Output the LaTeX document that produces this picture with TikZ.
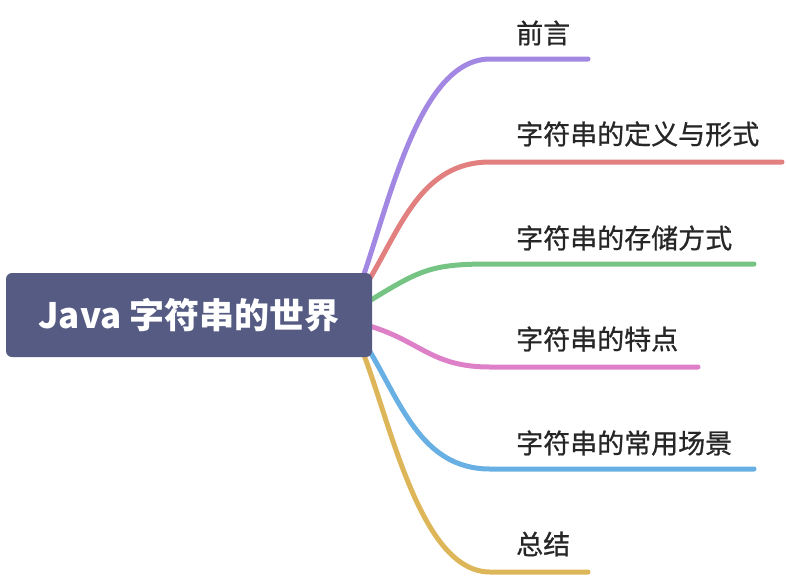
\documentclass[tikz,border=0pt]{standalone}
\usepackage{fontspec}
\setmainfont{Noto Sans CJK SC}
\newfontfamily\cjk{Noto Sans CJK SC}
\newfontfamily\cjkleaf{Noto Sans CJK SC}[FakeBold=0.8]
\definecolor{rootfill}{RGB}{86,91,131}
\definecolor{cpurple}{RGB}{162,136,226}
\definecolor{cred}{RGB}{226,128,128}
\definecolor{cgreen}{RGB}{118,196,132}
\definecolor{cpink}{RGB}{222,128,200}
\definecolor{cblue}{RGB}{104,176,227}
\definecolor{cyellow}{RGB}{222,182,90}
\begin{document}
\begin{tikzpicture}[x=1pt,y=-1pt,
  branch/.style={line width=5pt,line cap=round},
  leaf/.style={anchor=west,inner sep=0pt,font=\cjkleaf\fontsize{27}{27}\selectfont,text=black!85},
  rootbox/.style={fill=rootfill,rounded corners=6pt,minimum width=366pt,minimum height=84pt,inner sep=0pt,text=white,font=\cjk\bfseries\fontsize{35}{35}\selectfont}]
\useasboundingbox (0,0) rectangle (786,576);
% leaves
\node[leaf] (l1) at (516,33) {前言};
\node[leaf] (l2) at (516,134) {字符串的定义与形式};
\node[leaf] (l3) at (516,238) {字符串的存储方式};
\node[leaf] (l4) at (516,339) {字符串的特点};
\node[leaf] (l5) at (516,443) {字符串的常用场景};
\node[leaf] (l6) at (516,544) {总结};
% coordinates
\coordinate (s1) at (362,280); \coordinate (m1) at (490,59); \coordinate (e1) at (588,59);
\coordinate (s2) at (366,285); \coordinate (m2) at (490,162); \coordinate (e2) at (782,162);
\coordinate (s3) at (366,303); \coordinate (m3) at (490,264); \coordinate (e3) at (754,264);
\coordinate (s4) at (366,325); \coordinate (m4) at (490,367); \coordinate (e4) at (698,367);
\coordinate (s5) at (366,345); \coordinate (m5) at (490,469); \coordinate (e5) at (754,469);
\coordinate (s6) at (362,350); \coordinate (m6) at (490,572); \coordinate (e6) at (588,572);
\draw[branch,cpurple] (s1) .. controls (390,200) and (420,59) .. (m1) -- (e1);
\draw[branch,cred] (s2) .. controls (400,230) and (420,162) .. (m2) -- (e2);
\draw[branch,cgreen] (s3) .. controls (420,270) and (430,264) .. (m3) -- (e3);
\draw[branch,cpink] (s4) .. controls (420,340) and (430,367) .. (m4) -- (e4);
\draw[branch,cblue] (s5) .. controls (400,400) and (420,469) .. (m5) -- (e5);
\draw[branch,cyellow] (s6) .. controls (390,420) and (420,572) .. (m6) -- (e6);
\node[rootbox] (root) at (189,315) {Java 字符串的世界};
\end{tikzpicture}
\end{document}
